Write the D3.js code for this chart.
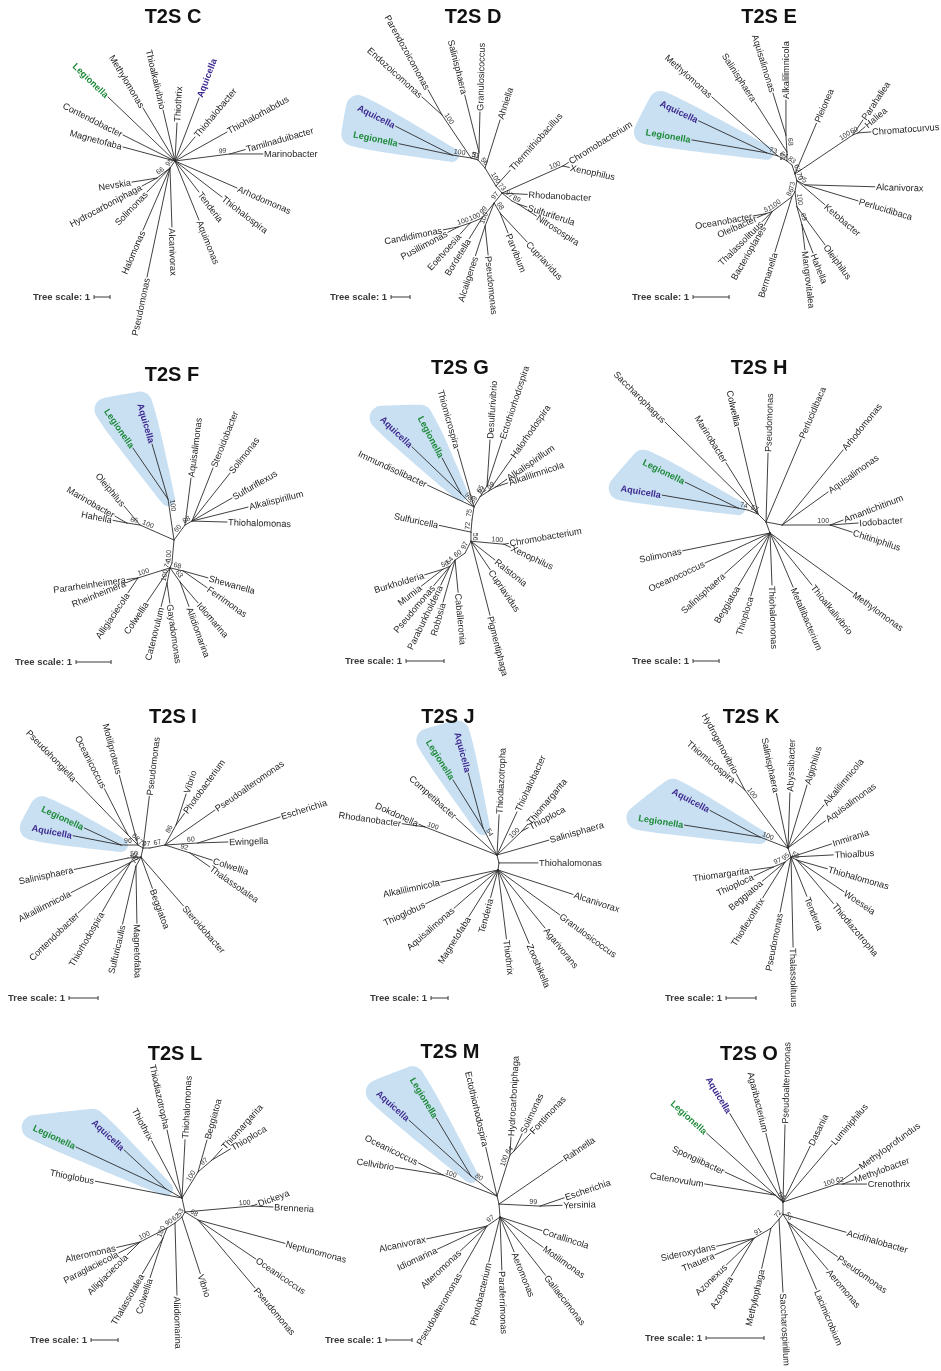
<!DOCTYPE html>
<html>
<head>
<meta charset="utf-8">
<title>T2S trees</title>
<script src="https://d3js.org/d3.v7.min.js"></script>
<style>
  body { margin: 0; background: #fff; }
  svg { will-change: transform; }
  text { font-family: "Liberation Sans", Arial, sans-serif; }
</style>
</head>
<body>
<svg id="fig" width="941" height="1371"></svg>
<script>
// each row: [node, parent, branch angle (deg, 0 = east, clockwise), branch length (tree units), support]
// node names starting with "#" are internal nodes
const treeC = [
  ["Legionella","root",-136.3,5.79], ["Methylomonas","root",-121.1,3.87],
  ["Thioalkalivibrio","root",-103.2,3.27], ["Thiothrix","root",-87,2.38],
  ["Aquicella","root",-69.1,4.21], ["Thiohalobacter","root",-50.2,1.95],
  ["Thiohalorhabdus","root",-29.1,3.72],
  ["#99","root",-7.3,3.46,99], ["Tamilnaduibacter","#99",-16,1.0], ["Marinobacter","#99",0,2.06],
  ["Arhodomonas","root",23.5,4.23], ["Thiohalospira","root",37.5,3.70],
  ["Tenderia","root",52.3,2.45], ["Aquimonas","root",67.9,3.98],
  ["#95","root",125.5,0.54,95], ["Alcanivorax","#95",88.1,3.69], ["Pseudomonas","#95",101.9,6.96],
  ["Halomonas","#95",113.5,4.23], ["Solimonas","#95",133.8,2.08],
  ["#66","#95",142.4,1.03,66], ["Hydrocarboniphaga","#66",151.9,1.06], ["Nevskia","#66",170.9,1.58],
  ["Magnetofaba","root",-164.9,3.37], ["Contendobacter","root",-153.4,3.63]
];
const treeD = [
  ["#51","root",-164,0.38,51], ["#LA","#51",-171,1.01,100],
  ["Aquicella","#LA",-153,3.34], ["Legionella","#LA",-168,2.86],
  ["#En","#51",-124,2.73,100], ["Endozoicomonas","#En",-138,1.42], ["Parendozoicomonas","#En",-119,1.51],
  ["#94","root",-83,0.42,94], ["Salinisphaera","#94",-104,3.09], ["Granulosicoccus","#94",-88.6,2.11],
  ["#56","root",48.8,0.56,56], ["Ahniella","#56",-72.6,2.65],
  ["#100a","#56",58.6,1.11,100], ["Thermithiobacillus","#100a",-48,1.12],
  ["#73","#100a",49.4,0.49,73],
  ["#CX","#73",-24,3.5,100], ["Chromobacterium","#CX",-32,0.35], ["Xenophilus","#CX",12,0.35],
  ["Rhodanobacter","#73",3,1.33],
  ["#97a","#73",38.7,0.67,97], ["#89","#97a",26.6,0.35,89],
  ["Sulfuriferula","#89",18,0.5], ["Nitrosospira","#89",33,1.16],
  ["#97b","#73",128.7,0.67,97],
  ["#68","#97b",59,0.61,68], ["Parvibium","#68",68.2,1.13], ["Cupriavidus","#68",47,2.09],
  ["#99","#97b",128.7,1.01,99], ["Bordetella","#99",122,1.28],
  ["#100b","#99",157.4,0.68,100], ["Eoetvoesia","#100b",132,0.79],
  ["#100c","#100b",161.6,0.67,100], ["Candidimonas","#100c",169,0.8], ["Pusillimonas","#100c",152,0.61],
  ["#PA","#97b",111.4,1.30,100], ["Pseudomonas","#PA",84,1.53], ["Alcaligenes","#PA",108,1.64]
];
const treeE = [
  ["#83","root",-141.3,0.18,83], ["#64","#83",-151,0.29,64], ["Methylomonas","#64",-138.2,2.46],
  ["#LA","#64",-164.7,0.32,73], ["Aquicella","#LA",-154.8,2.09], ["Legionella","#LA",-170.2,2.11],
  ["#57","#83",-90,0.25,57], ["Salinisphaera","#57",-122.6,1.65],
  ["#68","#57",-93.4,0.47,68], ["Aquisalimonas","#68",-107.2,1.22], ["Alkalilimnicola","#68",-90,0.97],
  ["#62","root",71.6,0.26,62], ["Pleionea","#62",-67,1.53],
  ["#100a","#62",-33.9,1.94,100], ["Parahaliea","#100a",-56.3,0.5],
  ["#60","#100a",-21.8,0.15,60], ["Haliea","#60",-40.6,0.26], ["Chromatocurvus","#60",-4.4,0.36],
  ["#70","#62",74,0.2,70], ["#75","#70",26.6,0.25,75],
  ["Alcanivorax","#75",1.6,1.94], ["Perlucidibaca","#75",16.8,1.54],
  ["Ketobacter","#70",40.6,1.02],
  ["#73","#70",100.3,0.31,73], ["#86","#73",121,0.16,86], ["Bermanella","#86",107.2,1.6],
  ["#100b","#86",143.1,0.69,100], ["Bacterioplanes","#100b",120,0.44], ["Thalassolituus","#100b",135,0.39],
  ["#51","#100b",161.6,0.18,51], ["Oceanobacter","#51",170,0.36], ["Oleibacter","#51",156,0.27],
  ["#100c","#73",82.4,0.42,100], ["Oleiphilus","#100c",53.6,1.31],
  ["#69","#100c",74.5,0.52,69], ["Hahella","#69",68.6,0.84], ["Mangrovitalea","#69",83.2,0.7]
];
const treeF = [
  ["#LA","root",-98.3,1.18,100], ["Legionella","#LA",-124.5,1.77], ["Aquicella","#LA",-106.2,1.64],
  ["#60","root",-53.7,0.53,60], ["Aquisalimonas","#60",-82.7,1.35],
  ["#88","#60",-29.7,0.23,88], ["Steroidobacter","#88",-68.4,1.63], ["Solimonas","#88",-51.6,1.75],
  ["Sulfuriflexus","#88",-29.9,1.32], ["Alkalispirillum","#88",-14,1.65], ["Thiohalomonas","#88",1.6,1.0],
  ["#100b","root",-156.2,1.06,100], ["Oleiphilus","#100b",-130,0.71],
  ["#66","#100b",-171.3,0.38,66], ["Marinobacter","#66",-150,0.39], ["Hahella","#66",-169,0.4],
  ["#100c","root",95,0.66,100], ["#74","#100c",111.8,0.15,74],
  ["#68","#74",13,0.38,68], ["Shewanella","#68",15.6,0.74], ["Ferrimonas","#68",35,0.84],
  ["#63","#74",54.5,0.49,63], ["Idiomarina","#63",49.4,0.79], ["Aliidiomarina","#63",70,0.75],
  ["#100d","#74",101.3,0.44,100], ["Gayadomonas","#100d",82,0.58], ["Catenovulum","#100d",104,0.69],
  ["Colwellia","#74",124.1,1.17],
  ["#100e","#74",162.6,0.96,100], ["Pararheinheimera","#100e",172,0.32], ["Rheinheimera","#100e",158,0.36],
  ["Alligiaciecola","#100e",124,0.51]
];
const treeG = [
  ["#75","root",-81.3,0.35,75], ["#98","#75",-135,0.48,98],
  ["Legionella","#98",-117.8,1.07], ["Aquicella","#98",-136.2,1.79],
  ["Immundisolibacter","#75",-155,1.35], ["Thiomicrospira","#75",-106,1.58],
  ["#89","#75",-59,0.31,89], ["#65","#89",-57.5,0.34,65],
  ["Desulfurivibrio","#65",-86.3,1.21], ["Ectothiorhodospira","#65",-71.9,1.27],
  ["#91","#89",-33.7,0.28,91], ["Halorhodospira","#91",-55.1,1.06],
  ["#69","#91",-29.7,0.21,69], ["Alkalispirillum","#69",-35,0.35], ["Alkalilimnicola","#69",-18.4,0.33],
  ["#72","root",94.8,0.32,72], ["Sulfuricella","#72",-168,0.85],
  ["#56","#72",90,0.24,56],
  ["#100","#56",5.2,0.87,100], ["Chromobacterium","#100",-10,0.12], ["Xenophilus","#100",25,0.19],
  ["Ralstonia","#56",38,0.8], ["Cupriavidus","#56",56,0.9], ["Pigmentiphaga","#56",75.6,2.01],
  ["#97","#56",116.6,0.35,97], ["#60","#97",145,0.32,60],
  ["Caballeronia","#60",84.6,0.85], ["Robbsia","#60",106,1.15],
  ["#64","#60",129.8,0.21,64], ["Paraburkholderia","#64",116,0.55], ["Pseudomonas","#64",130,0.66],
  ["#50","#64",156.8,0.2,50], ["Burkholderia","#50",163,0.5], ["Mumia","#50",142,0.72]
];
const treeH = [
  ["#A","root",-135,0.43], ["Saccharophagus","#A",-135.3,5.03], ["Marinobacter","#A",-122,2.33],
  ["Colwellia","#A",-103,3.42],
  ["#57","#A",-158.2,0.41,57], ["#LA","#57",-168.7,0.39,74],
  ["Legionella","#LA",-153.9,2.27], ["Aquicella","#LA",-170.3,2.97],
  ["Pseudomonas","root",-88.3,2.65], ["Perlucidibaca","root",-67,3.46],
  ["#B","root",10.6,0.63], ["Arhodomonas","#B",-50.9,3.72], ["Aquisalimonas","#B",-35.7,2.18],
  ["#100","#B",0,1.85,100], ["Amantichitinum","#100",-21,0.53], ["Iodobacter","#100",-4.1,1.08],
  ["Chitiniphilus","#100",18,0.89],
  ["#C","root",70,0.45], ["Solimonas","#C",168.5,3.43], ["Oceanococcus","#C",155.2,2.75],
  ["Salinisphaera","#C",138,2.35], ["Beggiatoa","#C",121,2.37], ["Thioploca","#C",107,2.53],
  ["Thiohalomonas","#C",87.8,2.0], ["Metallibacterium","#C",66.9,2.26],
  ["Thioalkalivibrio","#C",51.1,2.57], ["Methylomonas","#C",35.9,3.94]
];
const treeI = [
  ["#70a","root",-149,0.2,70], ["#68","#70a",-135,0.49,68],
  ["Pseudohongiella","#68",-134,2.59], ["Oceanicoccus","#68",-117,1.79],
  ["Motiliproteus","#70a",-105,2.49],
  ["#LA","#70a",180,0.59,96], ["Legionella","#LA",-155,1.39], ["Aquicella","#LA",-169,1.68],
  ["Pseudomonas","root",-83,1.79],
  ["#77","root",0,0.24,77], ["#67","#77",-11.3,0.53,67],
  ["#86","#67",-61.2,0.79,86], ["Vibrio","#86",-72,1.12], ["Photobacterium","#86",-54,0.49],
  ["Pseudoalteromonas","#67",-35,2.1],
  ["#60","#67",-3.5,1.14,60], ["Escherichia","#60",-17.6,2.97], ["Ewingella","#60",-1.9,1.03],
  ["#92","#67",17.7,0.9,92], ["Colwellia","#92",18,0.81], ["Thalassotalea","#92",35,0.84],
  ["#L","root",102.5,0.32],
  ["#50","#L",175.6,0.45,50], ["Salinisphaera","#50",168,1.89],
  ["#52","#L",153.4,0.39,52], ["Alkalilimnicola","#52",153,2.31], ["Contendobacter","#52",136,2.52],
  ["Thiorhodospira","#52",120,1.97],
  ["#70b","#L",119,0.36,70], ["Sulfuricaulis","#70b",103,2.05], ["Magnetofaba","#70b",89,1.97],
  ["Beggiatoa","#L",70,1.15], ["Steroidobacter","#L",49,2.23]
];
const treeJ = [
  ["Competibacter","root",-137.9,3.25],
  ["#LA","root",-117.4,1.79,54], ["Legionella","#LA",-122,3.33], ["Aquicella","#LA",-105,3.34],
  ["#100a","root",-158.7,4.55,100], ["Dokdonella","#100a",-156,0.38], ["Rhodanobacter","#100a",-172,1.35],
  ["Thiodiazotropha","root",-87,2.36], ["Thiohalobacter","root",-65.1,2.79],
  ["#100b","root",-43.8,2.04,100], ["Thiomargarita","#100b",-50,0.53], ["Thioploca","#100b",-28,0.42],
  ["Salinisphaera","root",-16,3.17],
  ["#M","root",76,0.48], ["Thiohalomonas","#M",0,2.29],
  ["#D","#M",98,0.42],
  ["Alcanivorax","#D",18,4.64], ["Granulosicoccus","#D",36,4.48], ["Agarivorans","#D",51,4.39],
  ["Zooshikella","#D",67,4.69], ["Thiothrix","#D",83,4.08], ["Tenderia","#D",105,1.68],
  ["Magnetofaba","#D",122,3.22], ["Aquisalimonas","#D",139,3.43], ["Thioglobus","#D",155,4.69],
  ["Alkalilimnicola","#D",168,3.44]
];
const treeK = [
  ["#LA","root",-158.6,1.0,100], ["Aquicella","#LA",-152,1.89], ["Legionella","#LA",-171,2.55],
  ["#100","root",-126.6,2.41,100], ["Hydrogenovibrio","#100",-118,0.6], ["Thiomicrospira","#100",-140,0.42],
  ["Salinisphaera","root",-102,1.86], ["Abyssibacter","root",-88,1.84], ["Algiphilus","root",-73.2,2.19],
  ["Alkalilimnicola","root",-50.1,1.87], ["Aquisalimonas","root",-36,1.55],
  ["#L","root",71.6,0.32], ["Inmirania","#L",-18,1.42], ["Thioalbus","#L",-3,1.41],
  ["#55","#L",26.6,0.22,55], ["Thiohalomonas","#55",16,1.05], ["Woeseia","#55",34,1.89],
  ["Thiodiazotropha","#55",50,1.89],
  ["Tenderia","#L",68,1.41], ["Thalassolituus","#L",88.7,3.0], ["Pseudomonas","#L",101.3,1.87],
  ["#95","#L",140.2,0.26,95], ["Thioflexothrix","#95",122,1.41], ["Beggiatoa","#95",140,0.99],
  ["#97","#95",157.4,0.43,97], ["Thiomargarita","#97",172,0.77], ["Thioploca","#97",155,0.7]
];
const treeL = [
  ["#LA","root",-150.6,0.68], ["Legionella","#LA",-155,3.68], ["Aquicella","#LA",-137,2.13],
  ["Thioglobus","root",-169,3.27], ["Thiothrix","root",-118,2.4],
  ["Thiodiazotropha","root",-102.4,2.58], ["Thiohalomonas","root",-87,2.16],
  ["#100a","root",-58.4,1.13,100], ["Beggiatoa","#100a",-74.3,1.23],
  ["#97","#100a",-40.6,0.68,97], ["Thiomargarita","#97",-48,0.57], ["Thioploca","#97",-31,0.8],
  ["#Lo","root",77.9,0.53],
  ["#100b","#Lo",-5.1,2.49,100], ["Dickeya","#100b",-20,0.2], ["Brenneria","#100b",2.7,0.78],
  ["#68","#Lo",31.6,0.57,68], ["Neptunomonas","#68",15,3.33], ["Oceanicoccus","#68",34,2.58],
  ["Pseudomonas","#68",50,3.28],
  ["#53","#Lo",121,0.22,53], ["Vibrio","#53",72,2.2],
  ["#62","#53",139.4,0.34,62], ["Aliidiomarina","#62",88.4,2.67],
  ["#90","#62",148,0.35,90],
  ["#100c","#90",111.8,0.4,100], ["Thalassotalea","#100c",120,1.52], ["Colwellia","#100c",108,1.54],
  ["#100d","#90",152.6,1.13,100], ["Alteromonas","#100d",167,0.88], ["Paraglaciecola","#100d",153,0.88],
  ["Alligiaciecola","#100d",135,0.67]
];
const treeM = [
  ["#LA","root",-142.4,1.26,80], ["Aquicella","#LA",-138,3.21], ["Legionella","#LA",-121,2.59],
  ["#100a","root",-158.7,2.23,100], ["Oceanicoccus","#100a",-154,1.05], ["Cellvibrio","#100a",-171,1.86],
  ["Ectothiorhodospira","root",-103,1.92],
  ["#100b","root",-72.4,1.65,100], ["Hydrocarboniphaga","#100b",-86.8,0.69],
  ["#64","#100b",-45,0.22,64], ["Solimonas","#64",-65,0.73], ["Fontimonas","#64",-47,0.93],
  ["#R","root",76,0.32], ["Rahnella","#R",-34.5,2.99],
  ["#99","#R",2.8,1.58,99], ["Escherichia","#99",-19,0.98], ["Yersinia","#99",-2,0.85],
  ["#Lo","#R",85.6,0.5],
  ["Corallincola","#Lo",18,1.69], ["Motilimonas","#Lo",35,2.02], ["Gallaecimonas","#Lo",52,2.84],
  ["Aeromonas","#Lo",68,1.44], ["Paraferrimonas","#Lo",88,2.04], ["Photobacterium","#Lo",104,1.78],
  ["#97","#Lo",145.3,0.61,97], ["Pseudoalteromonas","#97",120,2.07], ["Alteromonas","#97",137,1.39],
  ["Idiomarina","#97",155,2.1], ["Alcanivorax","#97",168,2.37]
];
const treeO = [
  ["Aquicella","root",-121,1.78], ["Legionella","root",-138,1.77],
  ["Agaribacterium","root",-104,1.22], ["Pseudoalteromonas","root",-88.5,1.33],
  ["Dasania","root",-64,1.07], ["Luminiphilus","root",-49.5,1.30],
  ["#100","root",-18.4,0.98,100], ["Methyloprofundus","#100",-36,0.47],
  ["#62","#100",0,0.1,62], ["Methylobacter","#62",-20,0.2], ["Crenothrix","#62",0,0.41],
  ["#54","root",-138.8,0.18,54], ["Spongiibacter","#54",-155.3,0.95], ["Catenovulum","#54",-171,1.23],
  ["#Lo","root",90,0.21], ["Acidihalobacter","#Lo",16,1.13],
  ["#56","#Lo",58,0.16,56], ["Pseudomonas","#56",35,1.04], ["Aeromonas","#56",50,1.07],
  ["Lacimicrobium","#56",67,1.26],
  ["#72","#Lo",128.7,0.11,72], ["Saccharospirillum","#72",86.9,1.26],
  ["#M","#72",131.6,0.21], ["Methylophaga","#M",103,0.71],
  ["#91","#M",149.5,0.34,91], ["Sideroxydans","#91",168,0.66], ["Thauera","#91",157,0.73],
  ["Azonexus","#91",136,0.66], ["Azospira","#91",121,0.76]
];

const titles = ["T2S C","T2S D","T2S E","T2S F","T2S G","T2S H","T2S I","T2S J","T2S K","T2S L","T2S M","T2S O"];
const trees = [treeC, treeD, treeE, treeF, treeG, treeH, treeI, treeJ, treeK, treeL, treeM, treeO];

// layout of the 12 panels (root point, pixels per tree unit, title and scale bar anchors)
const layout = [
  {root:[175,161],  unit:16, title:[173,23],   scale:[33,297]},
  {root:[478,160],  unit:19, title:[473,23],   scale:[330,297]},
  {root:[792,165],  unit:36, title:[769,23],   scale:[632,297]},
  {root:[174,540],  unit:35, title:[172,381],  scale:[15,662]},
  {root:[472,520],  unit:38, title:[460,374],  scale:[345,661]},
  {root:[766,522],  unit:26, title:[759,374],  scale:[632,661]},
  {root:[143,848],  unit:29, title:[173,723],  scale:[8,998]},
  {root:[497,855],  unit:17, title:[448,723],  scale:[370,998]},
  {root:[788,848],  unit:30, title:[751,723],  scale:[665,998]},
  {root:[182,1198], unit:27, title:[175,1060], scale:[30,1340]},
  {root:[497,1196], unit:26, title:[450,1058], scale:[325,1340]},
  {root:[783,1202], unit:58, title:[749,1060], scale:[645,1338]}
];

const svg = d3.select("#fig");
const deg = Math.PI / 180;
const hiColor = {Legionella: "#1f8a3a", Aquicella: "#3e2a8f"};
const blobFill = "#c9e0f3";
const gap = 1.2;

// points on a circle, used to build the rounded clade highlight
function disc(cx, cy, r) {
  return d3.range(28).map(j => [cx + r * Math.cos(j * Math.PI / 14), cy + r * Math.sin(j * Math.PI / 14)]);
}

trees.forEach((tree, i) => {
  const L = layout[i];
  const k = d3.scaleLinear().domain([0, 1]).range([0, L.unit]);
  const g = svg.append("g");
  const blobG = g.append("g"), edgeG = g.append("g"), supG = g.append("g"), labG = g.append("g");
  const pos = new Map([["root", L.root]]);
  const widths = new Map();

  tree.forEach(([id, par, ang, len, sup]) => {
    const [x0, y0] = pos.get(par);
    const a = ang * deg, r = k(len);
    const ux = Math.cos(a), uy = Math.sin(a);
    const x1 = x0 + r * ux, y1 = y0 + r * uy;
    pos.set(id, [x1, y1]);

    edgeG.append("line")
      .attr("x1", x0).attr("y1", y0).attr("x2", x1).attr("y2", y1)
      .attr("stroke", "#2b2b2b").attr("stroke-width", 0.9).attr("stroke-linecap", "round");

    const flip = ux < 0;
    const rot = flip ? ang + 180 : ang;

    if (sup != null) {
      const back = Math.min(7, r / 2);
      supG.append("text")
        .attr("transform", `translate(${x1 - ux * back},${y1 - uy * back}) rotate(${rot})`)
        .attr("y", -1.8)
        .attr("text-anchor", "middle")
        .attr("font-size", 7).attr("fill", "#333")
        .text(sup);
    }

    if (!id.startsWith("#")) {
      const special = hiColor[id];
      const t = labG.append("text")
        .attr("transform", `translate(${x1},${y1}) rotate(${rot})`)
        .attr("x", flip ? -gap : gap).attr("dy", "0.35em")
        .attr("text-anchor", flip ? "end" : "start")
        .attr("font-size", 9.2)
        .attr("font-weight", special ? "bold" : "normal")
        .attr("fill", special || "#1e1e1e")
        .text(id);
      widths.set(id, t.node().getComputedTextLength());
    }
  });

  // highlight the Legionella / Aquicella clade when they are sister taxa
  const leg = tree.find(r => r[0] === "Legionella"), aqu = tree.find(r => r[0] === "Aquicella");
  if (leg && aqu && leg[1] === aqu[1] && leg[1] !== "root") {
    const [nx, ny] = pos.get(leg[1]);
    let pts = disc(nx, ny, 7);
    [leg, aqu].forEach(r => {
      const a = r[2] * deg, [tx, ty] = pos.get(r[0]);
      const ux = Math.cos(a), uy = Math.sin(a);
      const w = widths.get(r[0]) + gap;
      pts = pts.concat(disc(tx, ty, 10), disc(tx + ux * w * 0.5, ty + uy * w * 0.5, 12),
                       disc(tx + ux * w, ty + uy * w, 12));
    });
    const hull = d3.polygonHull(pts);
    blobG.append("path")
      .attr("d", d3.line().curve(d3.curveCatmullRomClosed)(hull))
      .attr("fill", blobFill);
  }

  // title
  g.append("text")
    .attr("x", L.title[0]).attr("y", L.title[1])
    .attr("text-anchor", "middle")
    .attr("font-size", 20).attr("font-weight", "bold").attr("fill", "#111")
    .text(titles[i]);

  // tree scale
  const st = g.append("text")
    .attr("x", L.scale[0]).attr("y", L.scale[1] + 3.3)
    .attr("font-size", 9.5).attr("font-weight", "bold").attr("fill", "#3a3a3a")
    .text("Tree scale: 1");
  const bx0 = L.scale[0] + st.node().getComputedTextLength() + 4;
  const bx1 = bx0 + k(1);
  const sy = L.scale[1];
  g.append("path")
    .attr("d", `M${bx0},${sy - 2}V${sy + 2}M${bx0},${sy}H${bx1}M${bx1},${sy - 2}V${sy + 2}`)
    .attr("fill", "none").attr("stroke", "#3a3a3a").attr("stroke-width", 1);
});
</script>
</body>
</html>
